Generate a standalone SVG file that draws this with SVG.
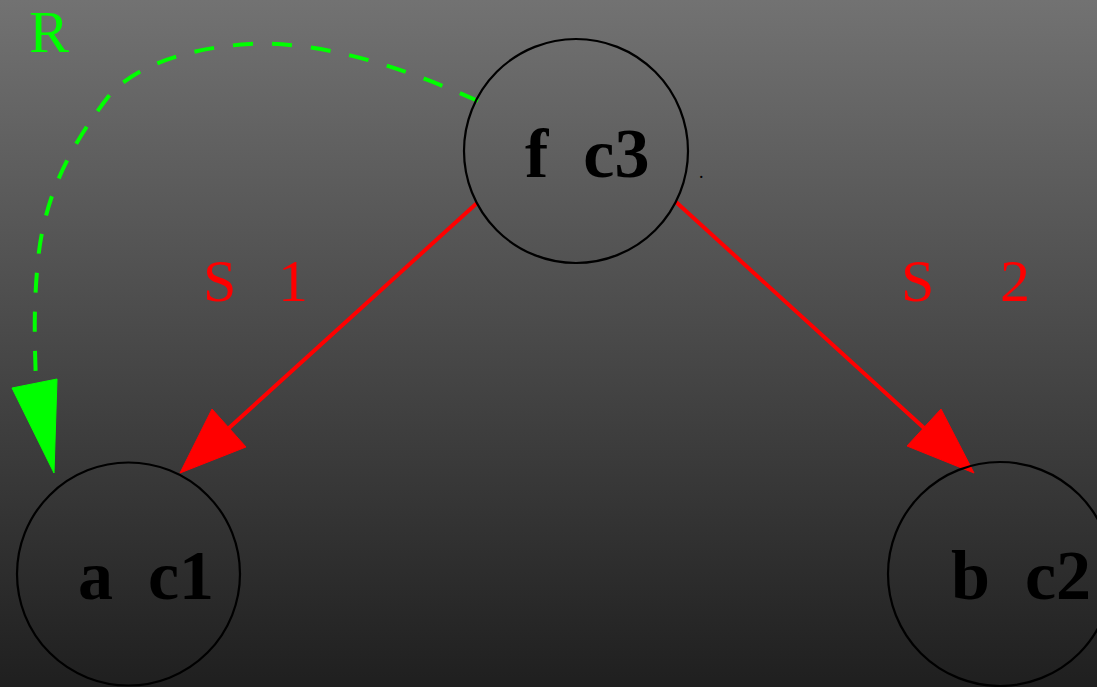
<svg xmlns="http://www.w3.org/2000/svg" width="1097" height="687" viewBox="0 0 1097 687">
<defs>
<linearGradient id="bg" x1="0" y1="0" x2="0" y2="1">
<stop offset="0" stop-color="#727272"/>
<stop offset="1" stop-color="#1f1f1f"/>
</linearGradient>
<style>
.node{fill:none;stroke:#000;stroke-width:2.2}
.nl{font-family:"Liberation Serif",serif;font-weight:bold;font-size:70px;fill:#000;white-space:pre}
.el{font-family:"Liberation Serif",serif;font-size:60px}
.red{stroke:#ff0000;stroke-width:4;fill:none}
.redh{fill:#ff0000;stroke:#ff0000;stroke-width:1}
.grn{stroke:#00ff00;stroke-width:4;fill:none;stroke-dasharray:20,19}
.grnh{fill:#00ff00;stroke:#00ff00;stroke-width:1}
</style>
</defs>
<rect width="1097" height="687" fill="url(#bg)"/>
<g id="edges">
<g id="e_f_a">
<path class="red" d="M477,203 L229,428"/>
<polygon class="redh" points="180,473 212,409 246,447"/>
<text class="el" fill="#ff0000" x="203" y="301">S <tspan x="278">1</tspan></text>
</g>
<g id="e_f_b">
<path class="red" d="M676,202 L924,428"/>
<polygon class="redh" points="974,473 941,409 907,446"/>
<text class="el" fill="#ff0000" x="901" y="301">S <tspan x="1000">2</tspan></text>
</g>
<g id="e_f_a_R">
<path class="grn" d="M478,101 C420,75 330,40 250,44 C180,48 130,70 108,97 C75,140 45,190 38,260 C33,310 35,350 36,384"/>
<polygon class="grnh" points="54,473 12,388 57,379"/>
<text class="el" fill="#00ff00" x="29" y="52">R</text>
</g>
</g>
<g id="node_f">
<circle class="node" cx="576" cy="151" r="112"/>
<text class="nl" x="525" y="177" xml:space="preserve">f  c3</text>
<text x="699" y="178" font-family="Liberation Serif,serif" font-size="18" fill="#000">.</text>
</g>
<g id="node_a">
<circle class="node" cx="128.5" cy="574" r="111.5"/>
<text class="nl" x="78" y="599" xml:space="preserve">a  c1</text>
</g>
<g id="node_b">
<circle class="node" cx="1000" cy="574" r="112"/>
<text class="nl" x="951" y="599" xml:space="preserve">b  c2</text>
</g>
</svg>
